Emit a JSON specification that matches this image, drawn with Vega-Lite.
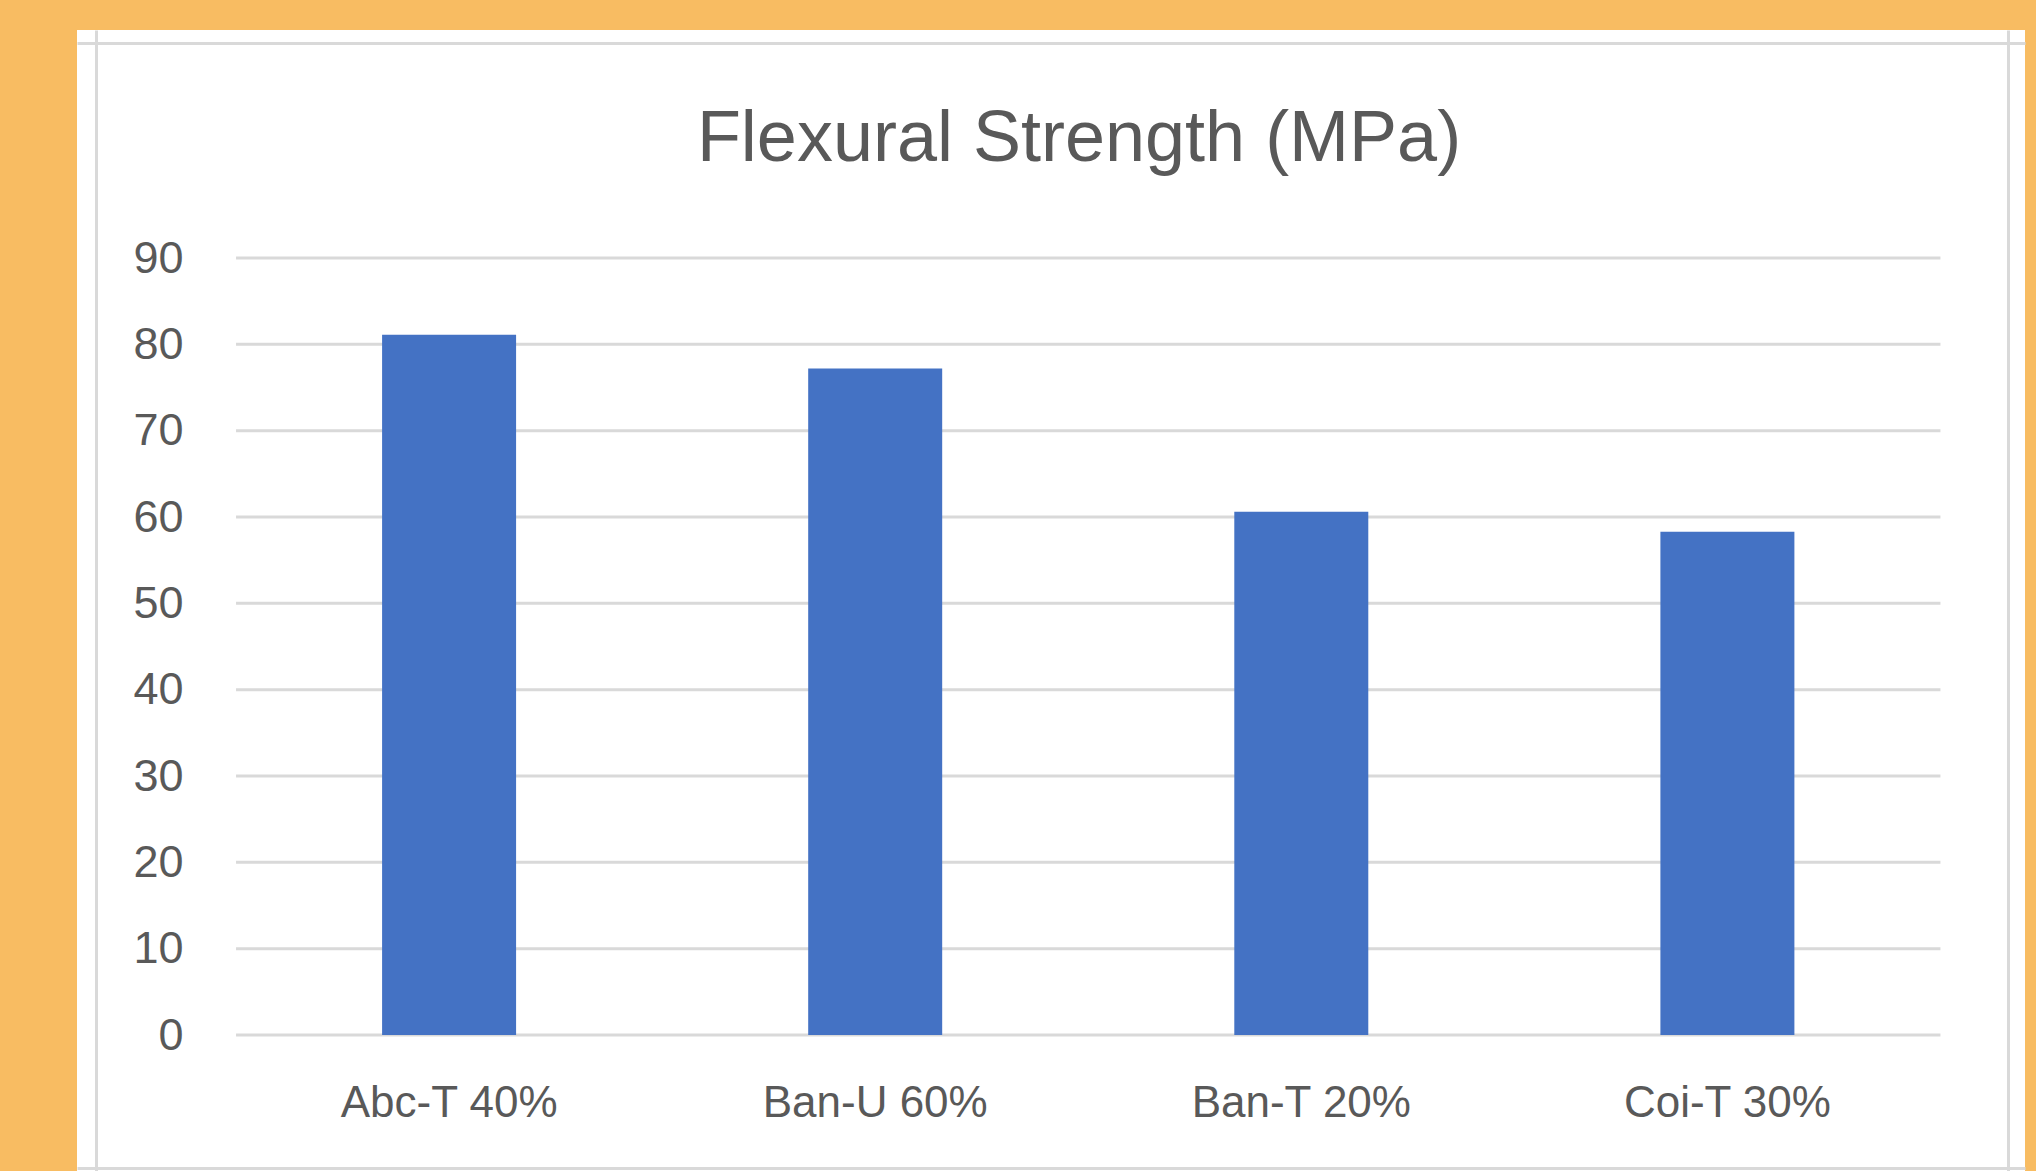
{
  "$schema": "https://vega.github.io/schema/vega-lite/v6.json",
  "autosize": "none",
  "width": 1948,
  "height": 1141,
  "padding": {"left": 77, "top": 30, "right": 11, "bottom": 0},
  "background": "#F8BC62",
  "title": {
    "text": "Flexural Strength (MPa)",
    "font": "Liberation Sans",
    "fontSize": 72,
    "fontWeight": "normal",
    "color": "#595959",
    "anchor": "middle",
    "frame": "group",
    "baseline": "alphabetic",
    "offset": -203,
    "dx": 28
  },
  "datasets": {
    "bars": [
      {"material": "Abc-T 40%", "order": 1, "strength": 81.1},
      {"material": "Ban-U 60%", "order": 2, "strength": 77.2},
      {"material": "Ban-T 20%", "order": 3, "strength": 60.6},
      {"material": "Coi-T 30%", "order": 4, "strength": 58.3}
    ],
    "grid": [
      {"v": 0}, {"v": 10}, {"v": 20}, {"v": 30}, {"v": 40},
      {"v": 50}, {"v": 60}, {"v": 70}, {"v": 80}, {"v": 90}
    ]
  },
  "layer": [
    {
      "data": {"name": "grid"},
      "mark": {"type": "rule", "color": "#D9D9D9", "strokeWidth": 3},
      "encoding": {
        "x": {"datum": 0.5, "type": "quantitative", "axis": null},
        "x2": {"datum": 4.5},
        "y": {
          "field": "v",
          "type": "quantitative",
          "scale": {"domain": [-15.75, 116.41], "nice": false, "zero": false},
          "axis": {
            "orient": "left",
            "offset": -19,
            "values": [0, 10, 20, 30, 40, 50, 60, 70, 80, 90],
            "title": null,
            "grid": false,
            "ticks": false,
            "tickSize": 0,
            "labelPadding": -87,
            "labelFont": "Liberation Sans",
            "labelFontSize": 45,
            "labelColor": "#595959",
            "labelFlush": false,
            "labelOverlap": false,
            "domain": true,
            "domainColor": "#D9D9D9",
            "domainWidth": 3
          }
        }
      }
    },
    {
      "data": {"name": "bars"},
      "mark": {"type": "bar", "color": "#4472C4", "size": 134, "orient": "vertical"},
      "encoding": {
        "x": {
          "field": "order",
          "type": "quantitative",
          "scale": {"domain": [0.1385, 4.6867], "nice": false, "zero": false},
          "axis": {
            "orient": "top",
            "offset": -13,
            "title": null,
            "labels": false,
            "ticks": false,
            "grid": false,
            "domain": true,
            "domainColor": "#D9D9D9",
            "domainWidth": 3
          }
        },
        "y": {
          "field": "strength",
          "type": "quantitative",
          "axis": {
            "orient": "right",
            "offset": -17,
            "title": null,
            "labels": false,
            "ticks": false,
            "grid": false,
            "domain": true,
            "domainColor": "#D9D9D9",
            "domainWidth": 3
          }
        },
        "y2": {"datum": 0}
      }
    },
    {
      "data": {"name": "bars"},
      "mark": {
        "type": "text",
        "font": "Liberation Sans",
        "fontSize": 44,
        "color": "#595959",
        "align": "center",
        "baseline": "alphabetic",
        "dy": 82
      },
      "encoding": {
        "x": {
          "field": "order",
          "type": "quantitative",
          "axis": {
            "orient": "bottom",
            "offset": -3,
            "title": null,
            "labels": false,
            "ticks": false,
            "grid": false,
            "domain": true,
            "domainColor": "#D9D9D9",
            "domainWidth": 3
          }
        },
        "y": {"datum": 0, "type": "quantitative", "axis": null},
        "text": {"field": "material"}
      }
    }
  ],
  "resolve": {"axis": {"x": "independent", "y": "independent"}},
  "config": {
    "view": {"fill": "white", "stroke": null}
  }
}
